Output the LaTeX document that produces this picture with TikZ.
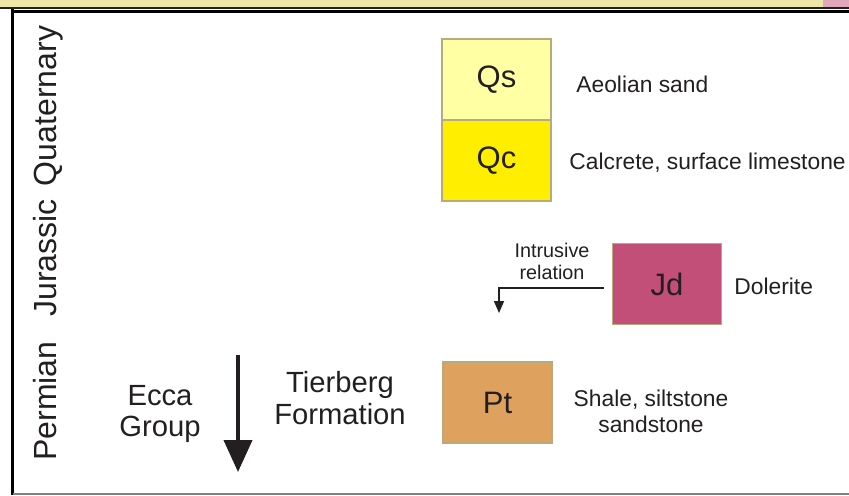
\documentclass[tikz,border=0pt]{standalone}
\usepackage{fontspec}
\setmainfont{Liberation Sans}
\usetikzlibrary{arrows.meta}
\definecolor{txt}{HTML}{231F20}
\definecolor{qsfill}{HTML}{FFFFA4}
\definecolor{qcfill}{HTML}{FFEE00}
\definecolor{jdfill}{HTML}{C24F78}
\definecolor{ptfill}{HTML}{DFA25E}
\definecolor{boxline}{HTML}{B9AA7C}
\definecolor{mapstrip}{HTML}{EEE6A6}
\tikzset{
  unitbox/.style={draw=boxline, line width=0.6pt, minimum width=54.5pt, minimum height=40.5pt,
    inner sep=0pt, text=txt, font=\fontsize{15.5}{18}\selectfont},
  desc/.style={text=txt, font=\fontsize{11.4}{13}\selectfont, inner sep=0pt, align=center},
  small/.style={text=txt, font=\fontsize{9.9}{11}\selectfont, inner sep=0pt, align=center},
  big/.style={text=txt, font=\fontsize{14.6}{15.8}\selectfont, inner sep=0pt, align=center},
  era/.style={text=txt, font=\fontsize{16}{18}\selectfont, inner sep=0pt, rotate=90, anchor=base},
  intrarrow/.style={draw=txt, line width=0.75pt, -{Triangle[width=5pt,length=6pt]}},
  bigarrow/.style={draw=txt, line width=2pt, -{Triangle[width=14pt,length=16pt]}}
}
\begin{document}
\begin{tikzpicture}[x=0.5pt,y=-0.5pt]
\useasboundingbox (0,0) rectangle (849,495);
% cropped map strip at top
\fill[mapstrip] (0,0) rectangle (849,7.5);
\fill[jdfill!50] (823,0) rectangle (849,7.5);
\draw[txt, line width=0.7pt] (0,8) -- (849,8);
% frame
\draw[black, line width=1.5pt] (12.5,11.2) -- (849,11.2);
\draw[black, line width=1.5pt] (12.5,9) -- (12.5,494.5);
\draw[gray, line width=1pt] (12.5,493.5) -- (849,493.5);
% era labels
\node[era] (quat) at (56,106) {Quaternary};
\node[era] (jur) at (56,258) {Jurassic};
\node[era] (perm) at (56,401) {Permian};
% units
\node[unitbox, fill=qsfill] (qs) at (496.5,79.5) {Qs};
\node[unitbox, fill=qcfill] (qc) at (496.5,160.5) {Qc};
\node[unitbox, fill=jdfill] (jd) at (667,284) {Jd};
\node[unitbox, fill=ptfill] (pt) at (497.5,402.5) {Pt};
% descriptions
\node[desc, anchor=west] (qsd) at (576,84) {Aeolian sand};
\node[desc, anchor=west] (qcd) at (569,163) {Calcrete, surface limestone};
\node[desc, anchor=west] (jdd) at (734,286) {Dolerite};
\node[desc] (ptd) at (651,411) {Shale, siltstone\\sandstone};
% intrusive relation
\node[small] (intr) at (552,261) {Intrusive\\relation};
\coordinate (intrA) at (604,288);
\coordinate (intrB) at (499,313);
\draw[intrarrow] (intrA) -| (intrB);
% Ecca / Tierberg
\node[big] (ecca) at (160,414) {Ecca\\Group};
\node[big] (tier) at (340,398) {Tierberg\\Formation};
\coordinate (arrA) at (238,355);
\coordinate (arrB) at (238,472);
\draw[bigarrow] (arrA) -- (arrB);
\end{tikzpicture}
\end{document}
